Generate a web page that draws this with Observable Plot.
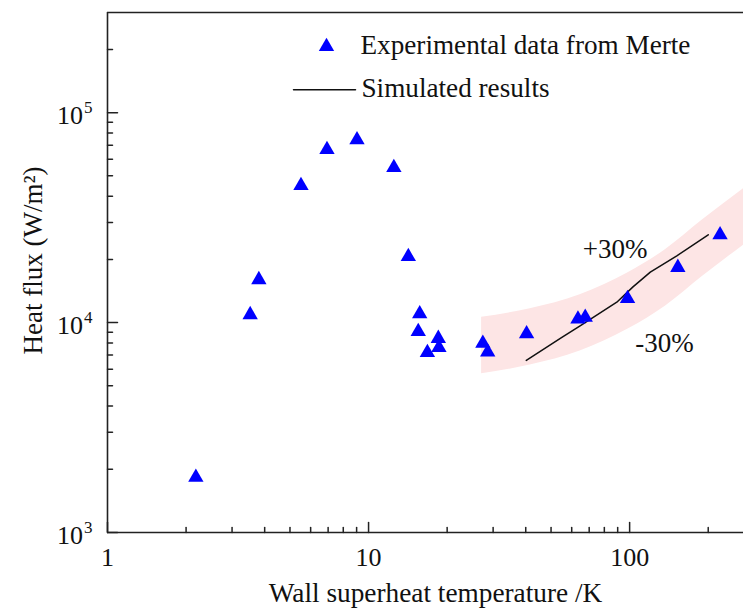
<!DOCTYPE html>
<html>
<head>
<meta charset="utf-8">
<script src="https://cdn.jsdelivr.net/npm/d3@7"></script>
<script src="https://cdn.jsdelivr.net/npm/@observablehq/plot@0.6"></script>
<style>
  html, body { margin: 0; padding: 0; background: #fff; overflow: hidden; }
</style>
</head>
<body>
<div id="chart"></div>
<script>
// Experimental data (Merte)
const expX = [2.18, 3.52, 3.80, 5.51, 6.93, 9.03, 12.5, 14.2, 15.7, 15.5, 18.5, 18.6, 16.8, 27.4, 28.6, 40.3, 63.4, 67.6, 98.2, 153, 222];
const expY = [1830, 10900, 16000, 44900, 66700, 74300, 54700, 20600, 11000, 9060, 8400, 7600, 7200, 7970, 7230, 8840, 10400, 10600, 13000, 18300, 26200];

// Simulated results
const simX = [40.2, 55, 64.6, 89.3, 103, 120, 151.6, 200];
const simY = [6600, 8500, 9650, 12500, 14800, 17400, 20800, 26200];

// ±30% band (centre curve)
const bandX = [27.1, 41.6, 64.6, 98.6, 137, 191, 273];
const bandC = [8150, 8960, 10450, 13300, 17100, 23800, 33400];
const bandHi = 1.3, bandLo = 0.7;

// Axis ticks
const xMajor = [1, 10, 100];
const xMajorLabels = ["1", "10", "100"];
const xMinor = [2, 3, 4, 5, 6, 7, 8, 9, 20, 30, 40, 50, 60, 70, 80, 90, 200];
const yMajor = [1e3, 1e4, 1e5];
const yMajorBase = ["10", "10", "10"];
const yMajorExp = ["3", "4", "5"];
const yMinor = [2e3, 3e3, 4e3, 5e3, 6e3, 7e3, 8e3, 9e3, 2e4, 3e4, 4e4, 5e4, 6e4, 7e4, 8e4, 9e4, 2e5];

// Annotations
const notes = [
  {x: 88, y: 20400, label: "+30%"},
  {x: 136, y: 7220, label: "-30%"}
];

const expData = expX.map((x, i) => ({x, y: expY[i]}));
const simData = simX.map((x, i) => ({x, y: simY[i]}));
const bandData = bandX.map((x, i) => ({x, lo: bandC[i] * bandLo, hi: bandC[i] * bandHi}));

const tickShape = {draw(context, l) { context.moveTo(0, 0); context.lineTo(0, -l); }};
const FONT = "Liberation Serif, Times New Roman, serif";
const axisColor = "#222";

const plot = Plot.plot({
  width: 743,
  height: 610,
  marginLeft: 107,
  marginRight: 0,
  marginTop: 12,
  marginBottom: 78,
  style: {fontFamily: FONT, fontSize: "27px", background: "#fff", color: "#111"},
  x: {type: "log", domain: [1, 273], axis: null},
  y: {type: "log", domain: [1e3, 3e5], axis: null},
  marks: [
    Plot.areaY(bandData, {x: "x", y1: "lo", y2: "hi", fill: "#fde5e5", curve: "monotone-x"}),
    Plot.line(simData, {x: "x", y: "y", stroke: "#111", strokeWidth: 1.5}),
    Plot.dot(expData, {x: "x", y: "y", symbol: "triangle", r: 5.7, fill: "#0000ff", stroke: "none"}),
    // frame (left, bottom, top)
    Plot.ruleX([1], {stroke: axisColor, strokeWidth: 1.6}),
    Plot.ruleY([1e3], {stroke: axisColor, strokeWidth: 1.6}),
    Plot.ruleY([3e5], {stroke: axisColor, strokeWidth: 1.6}),
    // inward ticks
    Plot.vector(xMajor, {x: d => d, frameAnchor: "bottom", length: 10, rotate: 0, anchor: "start", shape: tickShape, stroke: axisColor, strokeWidth: 1.5}),
    Plot.vector(xMinor, {x: d => d, frameAnchor: "bottom", length: 5, rotate: 0, anchor: "start", shape: tickShape, stroke: axisColor, strokeWidth: 1.5}),
    Plot.vector(yMajor, {y: d => d, frameAnchor: "left", length: 10, rotate: 90, anchor: "start", shape: tickShape, stroke: axisColor, strokeWidth: 1.5}),
    Plot.vector(yMinor, {y: d => d, frameAnchor: "left", length: 5, rotate: 90, anchor: "start", shape: tickShape, stroke: axisColor, strokeWidth: 1.5}),
    // tick labels
    Plot.text(xMajor, {x: d => d, frameAnchor: "bottom", text: (d, i) => xMajorLabels[i], textAnchor: "middle", lineAnchor: "bottom", dy: 33, fontSize: 26, fill: "#111"}),
    Plot.text(yMajor, {y: d => d, frameAnchor: "left", text: (d, i) => yMajorBase[i], textAnchor: "end", lineAnchor: "bottom", dx: -24.5, dy: 11, fontSize: 26, fill: "#111"}),
    Plot.text(yMajor, {y: d => d, frameAnchor: "left", text: (d, i) => yMajorExp[i], textAnchor: "start", lineAnchor: "bottom", dx: -23.5, dy: 0.5, fontSize: 17, fill: "#111"}),
    // axis titles
    Plot.text(["Wall superheat temperature /K"], {frameAnchor: "bottom", text: d => d, textAnchor: "middle", lineAnchor: "bottom", dx: 10, dy: 69.5, fontSize: 27.3, fill: "#111"}),
    Plot.text(["Heat flux (W/m²)"], {frameAnchor: "left", text: d => d, rotate: -90, textAnchor: "middle", lineAnchor: "middle", dx: -74, dy: -12, fontSize: 27, fill: "#111"}),
    // annotations
    Plot.text(notes, {x: "x", y: "y", text: "label", textAnchor: "middle", lineAnchor: "bottom", fontSize: 27, fill: "#111"}),
    // legend
    Plot.dot([0], {frameAnchor: "top-left", dx: 219, dy: 34, symbol: "triangle", r: 5.7, fill: "#0000ff", stroke: "none"}),
    Plot.text(["Experimental data from Merte"], {frameAnchor: "top-left", text: d => d, textAnchor: "start", lineAnchor: "bottom", dx: 253, dy: 41.5, fontSize: 27.2, fill: "#111"}),
    Plot.vector([0], {frameAnchor: "top-left", dx: 186, dy: 77.3, length: 62, rotate: 90, anchor: "start", shape: tickShape, stroke: "#111", strokeWidth: 1.5}),
    Plot.text(["Simulated results"], {frameAnchor: "top-left", text: d => d, textAnchor: "start", lineAnchor: "bottom", dx: 254, dy: 84, fontSize: 27.2, fill: "#111"})
  ]
});

document.getElementById("chart").appendChild(plot);
</script>
</body>
</html>
